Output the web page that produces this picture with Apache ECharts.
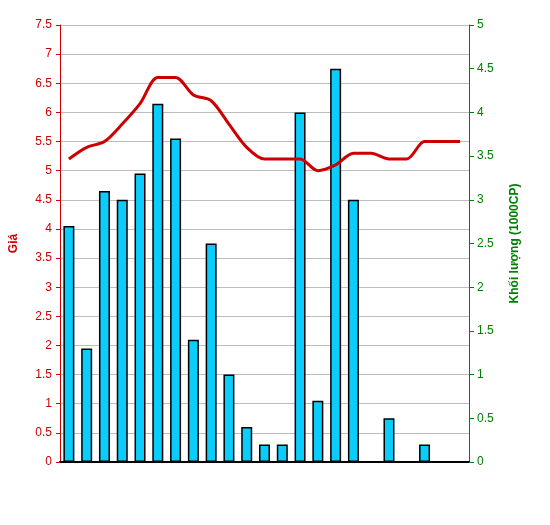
<!DOCTYPE html>
<html>
<head>
<meta charset="utf-8">
<script src="https://cdn.jsdelivr.net/npm/echarts@6/dist/echarts.min.js"></script>
<style>
html,body{margin:0;padding:0;background:#fff;}
#c{width:550px;height:525px;}
</style>
</head>
<body>
<div id="c"></div>
<script>
const categories = ['1','2','3','4','5','6','7','8','9','10','11','12','13','14','15','16','17','18','19','20','21','22','23'];
const priceValues = [5.2,5.4,5.5,5.8,6.15,6.6,6.6,6.3,6.2,5.8,5.4,5.2,5.2,5.2,5.0,5.1,5.3,5.3,5.2,5.2,5.5,5.5,5.5];
const volumeValues = [2.7,1.3,3.1,3.0,3.3,4.1,3.7,1.4,2.5,1.0,0.4,0.2,0.2,4.0,0.7,4.5,3.0,0,0.5,0,0.2,0,0];
const priceAxisName = 'Giá';
const volumeAxisName = 'Khối lượng (1000CP)';

const chart = echarts.init(document.getElementById('c'));
const font = 'Liberation Sans, Arial, sans-serif';
chart.setOption({
  animation: false,
  backgroundColor: '#fff',
  grid: {left: 56, right: 81, top: 25, bottom: 63},
  xAxis: [{
    type: 'category',
    data: categories,
    position: 'bottom',
    axisLine: {lineStyle: {color: '#000', width: 2}},
    axisTick: {show: false},
    axisLabel: {show: false},
    splitLine: {show: false}
  }, {
    type: 'category',
    data: categories,
    position: 'top',
    axisLine: {lineStyle: {color: '#000', width: 1}},
    axisTick: {show: false},
    axisLabel: {show: false}
  }],
  yAxis: [{
    type: 'value',
    min: 0, max: 7.5, interval: 0.5,
    position: 'left',
    name: priceAxisName,
    nameLocation: 'middle',
    nameGap: 40,
    nameRotate: 90,
    nameTextStyle: {color: '#CC0000', fontWeight: 'bold', fontSize: 12, fontFamily: font},
    axisLine: {show: true, lineStyle: {color: '#CC0000', width: 1}},
    axisTick: {show: true, length: 4, lineStyle: {color: '#CC0000'}},
    axisLabel: {color: '#CC0000', fontSize: 12, fontFamily: font, margin: 8},
    splitLine: {show: true, lineStyle: {color: '#bdbdbd', width: 1}}
  }, {
    type: 'value',
    min: 0, max: 5, interval: 0.5,
    position: 'right',
    name: volumeAxisName,
    nameLocation: 'middle',
    nameGap: 40,
    nameRotate: 90,
    nameTextStyle: {color: '#008000', fontWeight: 'bold', fontSize: 12, fontFamily: font},
    axisLine: {show: true, lineStyle: {color: '#008000', width: 1}},
    axisTick: {show: true, length: 5, lineStyle: {color: '#008000'}},
    axisLabel: {color: '#008000', fontSize: 12, fontFamily: font, margin: 8},
    splitLine: {show: false}
  }],
  series: [{
    type: 'bar',
    name: 'Khối lượng',
    yAxisIndex: 1,
    data: volumeValues,
    barWidth: 11,
    itemStyle: {color: '#0BCDFC', borderColor: '#000', borderWidth: 1.5},
    z: 2
  }, {
    type: 'line',
    name: 'Giá',
    yAxisIndex: 0,
    data: priceValues,
    smooth: 0.3,
    symbol: 'none',
    lineStyle: {color: '#CC0000', width: 3},
    z: 3
  }]
});
</script>
</body>
</html>
